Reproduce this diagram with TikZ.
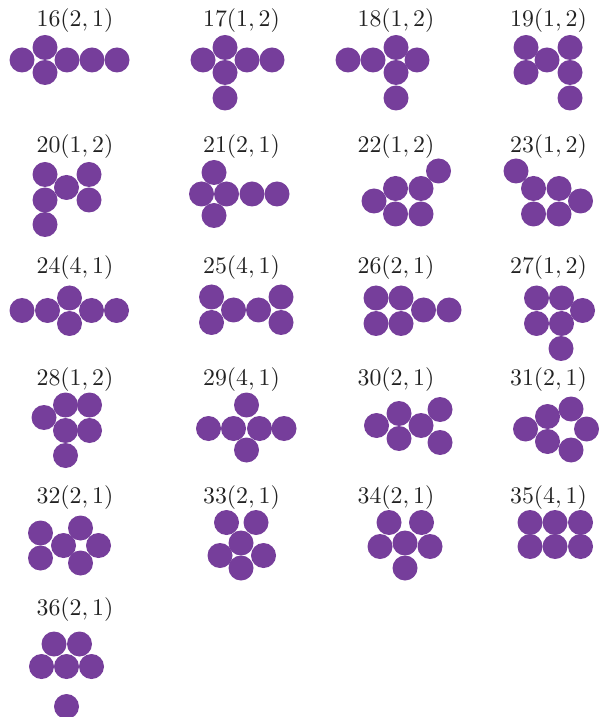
\documentclass[tikz,border=0pt]{standalone}
\usepackage{amsmath}
\usepackage{xcolor}
\usepackage{tikz}
\definecolor{discpurple}{RGB}{118, 62, 155}
\definecolor{labeldark}{RGB}{34, 34, 34}

\begin{document}
\begin{tikzpicture}[x=0.42pt, y=-0.42pt,
    disc/.style={circle, fill=discpurple, minimum size=10.5pt, inner sep=0pt},
    lbl/.style={text=labeldark, inner sep=0pt}]
    \useasboundingbox (0,0) rectangle (598,717);

    % row 1
    \node[lbl] (l16) at (75,21) {$16(2,1)$};
    \foreach \p [count=\i] in {(22,60),(45,47.5),(45,72.5),(67,60),(92,60),(117,60)}
      \node[disc] (d16-\i) at \p {};
    \node[lbl] (l17) at (241.5,21) {$17(1,2)$};
    \foreach \p [count=\i] in {(203,60),(225,47.5),(225,72.5),(247,60),(272,60),(225,98)}
      \node[disc] (d17-\i) at \p {};
    \node[lbl] (l18) at (396,21) {$18(1,2)$};
    \foreach \p [count=\i] in {(348,60),(373,60),(396,47.5),(396,72.5),(417,60),(396,98)}
      \node[disc] (d18-\i) at \p {};
    \node[lbl] (l19) at (548.5,21) {$19(1,2)$};
    \foreach \p [count=\i] in {(526,47.5),(526,72.5),(547,60),(570,47.5),(570,72.5),(570,98)}
      \node[disc] (d19-\i) at \p {};

    % row 2
    \node[lbl] (l20) at (75,147) {$20(1,2)$};
    \foreach \p [count=\i] in {(45,174.5),(45,200),(66.5,187.5),(89,174.5),(89,200),(45,224.5)}
      \node[disc] (d20-\i) at \p {};
    \node[lbl] (l21) at (241.5,147) {$21(2,1)$};
    \foreach \p [count=\i] in {(214,172.5),(201.5,194),(226.5,194),(252,194),(277,194),(214,215.5)}
      \node[disc] (d21-\i) at \p {};
    \node[lbl] (l22) at (396,147) {$22(1,2)$};
    \foreach \p [count=\i] in {(374,201),(395.5,188.5),(395.5,214),(421,188.5),(421,214),(438.5,171)}
      \node[disc] (d22-\i) at \p {};
    \node[lbl] (l23) at (548.5,147) {$23(1,2)$};
    \foreach \p [count=\i] in {(516,171),(533.5,188.5),(533.5,214),(559,188.5),(559,214),(580.5,201)}
      \node[disc] (d23-\i) at \p {};

    % row 3
    \node[lbl] (l24) at (75,268) {$24(4,1)$};
    \foreach \p [count=\i] in {(22,310.5),(47.5,310.5),(69.5,298),(69.5,323.5),(91.5,310.5),(116.5,310.5)}
      \node[disc] (d24-\i) at \p {};
    \node[lbl] (l25) at (241.5,268) {$25(4,1)$};
    \foreach \p [count=\i] in {(211.5,297),(211.5,322.5),(233.5,310),(258.5,310),(281,297),(281,322.5)}
      \node[disc] (d25-\i) at \p {};
    \node[lbl] (l26) at (396,268) {$26(2,1)$};
    \foreach \p [count=\i] in {(376,298),(376,323.5),(401,298),(401,323.5),(423.5,310),(449,310)}
      \node[disc] (d26-\i) at \p {};
    \node[lbl] (l27) at (548.5,268) {$27(1,2)$};
    \foreach \p [count=\i] in {(536.5,298),(536.5,323.5),(561.5,298),(561.5,323.5),(582.5,310.5),(561,348.5)}
      \node[disc] (d27-\i) at \p {};

    % row 4
    \node[lbl] (l28) at (75,380) {$28(1,2)$};
    \foreach \p [count=\i] in {(44,417.5),(65.5,405),(65.5,430.5),(89.5,405),(89.5,430.5),(65.5,455.5)}
      \node[disc] (d28-\i) at \p {};
    \node[lbl] (l29) at (241.5,380) {$29(4,1)$};
    \foreach \p [count=\i] in {(208.5,428.5),(233.5,428.5),(246.5,405),(259.5,428.5),(284,428.5),(246.5,450)}
      \node[disc] (d29-\i) at \p {};
    \node[lbl] (l30) at (396,380) {$30(2,1)$};
    \foreach \p [count=\i] in {(376.5,425.5),(399,413.5),(399,438.5),(421,425.5),(440,409.5),(440,442.5)}
      \node[disc] (d30-\i) at \p {};
    \node[lbl] (l31) at (548.5,380) {$31(2,1)$};
    \foreach \p [count=\i] in {(525.5,429),(547.5,416.5),(547.5,441.5),(571,409),(586.5,429),(571,450)}
      \node[disc] (d31-\i) at \p {};

    % row 5
    \node[lbl] (l32) at (75,498) {$32(2,1)$};
    \foreach \p [count=\i] in {(40.5,533),(40.5,558),(63.5,545.5),(80.5,528),(98.5,545.5),(80.5,563)}
      \node[disc] (d32-\i) at \p {};
    \node[lbl] (l33) at (241.5,498) {$33(2,1)$};
    \foreach \p [count=\i] in {(226.5,522.5),(256,522.5),(241,543),(220,555.5),(263.5,555.5),(241,568)}
      \node[disc] (d33-\i) at \p {};
    \node[lbl] (l34) at (396,498) {$34(2,1)$};
    \foreach \p [count=\i] in {(389,522.5),(421.5,522.5),(380,546.5),(405,543),(430,546.5),(405,568)}
      \node[disc] (d34-\i) at \p {};
    \node[lbl] (l35) at (548.5,498) {$35(4,1)$};
    \foreach \p [count=\i] in {(530,522.5),(555,522.5),(580.5,522.5),(530,546.5),(555,546.5),(580.5,546.5)}
      \node[disc] (d35-\i) at \p {};

    % row 6
    \node[lbl] (l36) at (75,610) {$36(2,1)$};
    \foreach \p [count=\i] in {(54,644),(79.5,644),(41.5,666.5),(66.5,666.5),(91.5,666.5),(66.5,706.5)}
      \node[disc] (d36-\i) at \p {};
\end{tikzpicture}
\end{document}
